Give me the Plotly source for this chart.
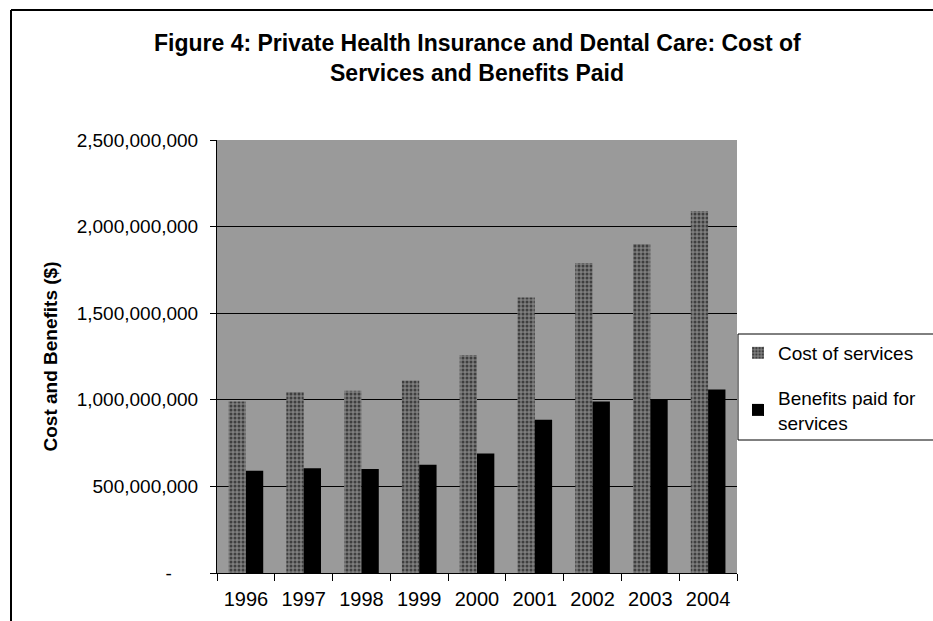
import plotly.graph_objects as go

years = ["1996", "1997", "1998", "1999", "2000", "2001", "2002", "2003", "2004"]
cost_of_services = [990e6, 1045e6, 1052e6, 1112e6, 1258e6, 1590e6, 1790e6, 1900e6, 2090e6]
benefits_paid = [590e6, 605e6, 600e6, 625e6, 690e6, 885e6, 990e6, 1003e6, 1060e6]
y_tick_vals = [0, 500e6, 1000e6, 1500e6, 2000e6, 2500e6]
y_tick_text = ["-" + "\u00a0" * 5, "500,000,000", "1,000,000,000", "1,500,000,000", "2,000,000,000", "2,500,000,000"]
title_lines = ["Figure 4: Private Health Insurance and Dental Care: Cost of", "Services and Benefits Paid"]

FONT = "Liberation Sans, Arial, sans-serif"

fig = go.Figure()
fig.add_trace(go.Bar(
    x=years, y=cost_of_services, name="Cost of services", legendgroup="a",
    marker=dict(color="#7a7a7a", line=dict(width=0),
                pattern=dict(shape=".", fgcolor="#000000", bgcolor="#7e7e7e", size=4, solidity=0.45)),
))
fig.add_trace(go.Bar(
    x=years, y=benefits_paid, name="Benefits paid for<br>services", legendgroup="b",
    marker=dict(color="#000000", line=dict(width=0)),
))

W, H = 933, 621
L, R, T, B = 217, 196, 140, 48
pw, ph = W - L - R, H - T - B

def px_x(px):
    return (px - L) / pw

def px_y(py):
    return (H - B - py) / ph

annotations = [
    dict(text="<b>%s</b>" % title_lines[0], xref="paper", yref="paper", x=px_x(477), y=px_y(43),
         xanchor="center", yanchor="middle", showarrow=False, font=dict(family=FONT, size=23, color="black")),
    dict(text="<b>%s</b>" % title_lines[1], xref="paper", yref="paper", x=px_x(477), y=px_y(73),
         xanchor="center", yanchor="middle", showarrow=False, font=dict(family=FONT, size=23, color="black")),
]

fig.update_layout(
    width=W, height=H,
    margin=dict(l=L, r=R, t=T, b=B),
    paper_bgcolor="white",
    plot_bgcolor="#9a9a9a",
    barmode="group", bargap=0.4, bargroupgap=0.0,
    font=dict(family=FONT, color="black", size=19),
    annotations=annotations,
    legend=dict(
        x=px_x(738), y=px_y(334), xanchor="left", yanchor="top",
        borderwidth=0, bgcolor="rgba(0,0,0,0)",
        font=dict(family=FONT, size=19), traceorder="grouped",
        itemwidth=30, tracegroupgap=17,
    ),
    showlegend=True,
    shapes=[
        dict(type="rect", xref="paper", yref="paper",
             x0=px_x(738), x1=px_x(940), y0=px_y(334), y1=px_y(440),
             line=dict(color="black", width=1), fillcolor="white", layer="below"),
        dict(type="line", xref="paper", yref="paper",
             x0=px_x(11), x1=px_x(940), y0=px_y(10), y1=px_y(10),
             line=dict(color="black", width=2)),
        dict(type="line", xref="paper", yref="paper",
             x0=px_x(11), x1=px_x(11), y0=px_y(10), y1=px_y(630),
             line=dict(color="black", width=2)),
    ],
)

fig.update_xaxes(
    type="category", tickson="boundaries", ticks="outside", ticklen=7, tickcolor="black",
    showline=True, linecolor="black", linewidth=1, showgrid=False,
    tickfont=dict(family=FONT, size=20), ticklabelstandoff=8,
)
fig.update_yaxes(
    range=[0, 2500e6], tickvals=y_tick_vals, ticktext=y_tick_text,
    ticks="outside", ticklen=6, tickcolor="black",
    showline=True, linecolor="black", linewidth=1,
    showgrid=True, gridcolor="black", gridwidth=1, zeroline=False,
    tickfont=dict(family=FONT, size=19), ticklabelstandoff=8,
    title=dict(text="<b>Cost and Benefits ($)</b>", font=dict(family=FONT, size=19), standoff=14),
)

fig.write_html("out.html")
